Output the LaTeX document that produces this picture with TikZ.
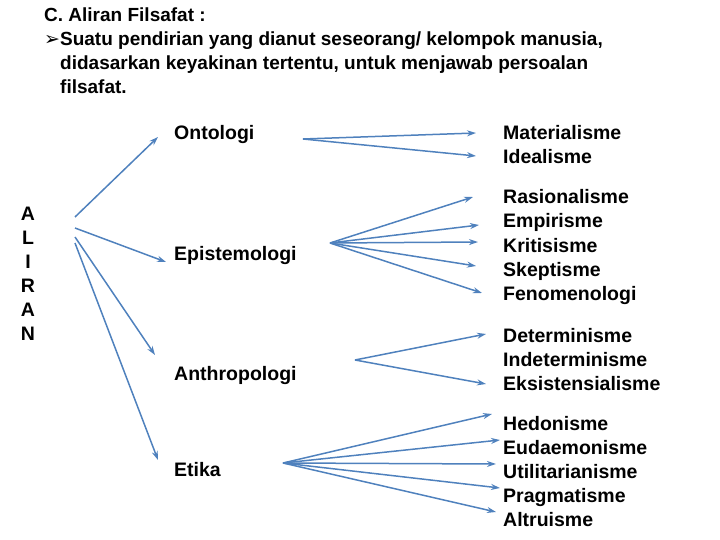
\documentclass[tikz,border=0pt]{standalone}
\usepackage{fontspec}
\setmainfont{Liberation Sans}
\newfontfamily\djv{DejaVu Sans}
\usetikzlibrary{arrows.meta}
\definecolor{ac}{HTML}{4F81BD}
\begin{document}
\begin{tikzpicture}[x=1pt,y=-1pt,
 t/.style={anchor=base west,inner sep=0pt,font=\bfseries\fontsize{19.5}{24}\selectfont,align=left},
 ar/.style={draw=ac,line width=1.5pt,-{Stealth[length=9pt,width=6pt]}}]
\useasboundingbox (0,0) rectangle (720,540);
\node[t,anchor=north west,font=\bfseries\fontsize{19}{24}\selectfont] (h) at (44,8) {C. Aliran Filsafat :\\
{\djv\mdseries ➢}Suatu pendirian yang dianut seseorang/ kelompok manusia,\\
\hspace{16pt}didasarkan keyakinan tertentu, untuk menjawab persoalan\\
\hspace{16pt}filsafat.};
\node[t,anchor=north,align=center] (al) at (28,207) {A\\L\\I\\R\\A\\N};
\node[t] (on) at (174,140) {Ontologi};
\node[t] (ep) at (174,260) {Epistemologi};
\node[t] (an) at (174,380) {Anthropologi};
\node[t] (et) at (174,476) {Etika};
\node[t] (m1) at (503,140) {Materialisme};
\node[t] (m2) at (503,164) {Idealisme};
\node[t] (e1) at (503,204) {Rasionalisme};
\node[t] (e2) at (503,228) {Empirisme};
\node[t] (e3) at (503,252) {Kritisisme};
\node[t] (e4) at (503,276) {Skeptisme};
\node[t] (e5) at (503,300) {Fenomenologi};
\node[t] (a1) at (503,342) {Determinisme};
\node[t] (a2) at (503,366) {Indeterminisme};
\node[t] (a3) at (503,390) {Eksistensialisme};
\node[t] (h1) at (503,430) {Hedonisme};
\node[t] (h2) at (503,454) {Eudaemonisme};
\node[t] (h3) at (503,478) {Utilitarianisme};
\node[t] (h4) at (503,502) {Pragmatisme};
\node[t] (h5) at (503,526) {Altruisme};
\coordinate (l1) at (75,217); \coordinate (l2) at (75,228);
\coordinate (l3) at (75,237); \coordinate (l4) at (75,243);
\draw[ar] (l1) -- (158,137);
\draw[ar] (l2) -- (166,262);
\draw[ar] (l3) -- (155,355);
\draw[ar] (l4) -- (158,460);
\coordinate (o) at (303,139);
\draw[ar] (o) -- (476,133);
\draw[ar] (o) -- (476,156);
\coordinate (p) at (330,243);
\draw[ar] (p) -- (473,197);
\draw[ar] (p) -- (479,225);
\draw[ar] (p) -- (478,242);
\draw[ar] (p) -- (476,266);
\draw[ar] (p) -- (482,293);
\coordinate (q) at (355,360);
\draw[ar] (q) -- (486,334);
\draw[ar] (q) -- (486,384);
\coordinate (r) at (283,463);
\draw[ar] (r) -- (492,414);
\draw[ar] (r) -- (500,440);
\draw[ar] (r) -- (496,464);
\draw[ar] (r) -- (500,488);
\draw[ar] (r) -- (496,512);
\end{tikzpicture}
\end{document}
